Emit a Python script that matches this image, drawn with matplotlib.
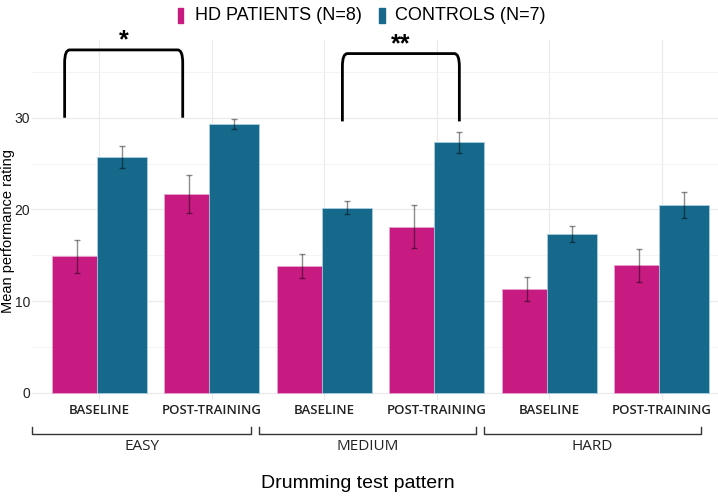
import numpy as np
import matplotlib.pyplot as plt
from matplotlib.path import Path
from matplotlib.patches import PathPatch

# Data
phases = ["BASELINE", "POST-TRAINING", "BASELINE", "POST-TRAINING", "BASELINE", "POST-TRAINING"]
levels = ["EASY", "MEDIUM", "HARD"]
hd_mean = [14.9, 21.7, 13.8, 18.1, 11.3, 13.9]
hd_err = [1.8, 2.1, 1.3, 2.35, 1.3, 1.8]
ctrl_mean = [25.7, 29.3, 20.2, 27.3, 17.3, 20.5]
ctrl_err = [1.2, 0.55, 0.7, 1.1, 0.9, 1.4]
series_names = ["HD PATIENTS (N=8)", "CONTROLS (N=7)"]

PINK = "#C71B82"
BLUE = "#17698C"
LABEL_FONT = ["Liberation Sans", "DejaVu Sans"]
TICK_FONT = ["Open Sans", "DejaVu Sans"]

fig = plt.figure(figsize=(7.18, 5.03), dpi=100)
ax = fig.add_axes([0.0446, 0.2048, 0.9554, 0.716])

x = np.arange(len(phases))
ax.bar(x - 0.2, hd_mean, width=0.444, color=PINK, edgecolor="#e7a6cd", linewidth=0.6, zorder=2)
ax.bar(x + 0.2, ctrl_mean, width=0.444, color=BLUE, edgecolor="#a9cfe0", linewidth=0.6, zorder=3)
ax.errorbar(x - 0.2, hd_mean, yerr=hd_err, fmt="none", ecolor="black", alpha=0.45,
            elinewidth=1.0, capsize=2, capthick=1.0, zorder=4)
ax.errorbar(x + 0.2, ctrl_mean, yerr=ctrl_err, fmt="none", ecolor="black", alpha=0.45,
            elinewidth=1.0, capsize=2, capthick=1.0, zorder=4)

ax.set_xlim(-0.6, 5.5)
ax.set_ylim(-0.8, 38.5)
ax.set_yticks([0, 10, 20, 30])
ax.set_yticks([5, 15, 25, 35], minor=True)
ax.grid(which="major", axis="both", color="#ebebeb", linewidth=0.9, zorder=0)
ax.grid(which="minor", axis="y", color="#f3f3f3", linewidth=0.6, zorder=0)
ax.set_axisbelow(True)
for s in ax.spines.values():
    s.set_visible(False)
ax.tick_params(axis="both", which="both", length=0)
ax.tick_params(axis="y", pad=1.5, labelsize=10, labelcolor="#222222")
for t in ax.get_yticklabels():
    t.set_family(LABEL_FONT)

ax.set_xticks(x)
ax.set_xticklabels(phases, family=TICK_FONT, fontsize=9.5, fontweight="semibold", color="#222222")
ax.tick_params(axis="x", pad=3)

fig.text(8 / 718, 1 - 231 / 503, "Mean performance rating", rotation=90, ha="center",
         va="center", family=LABEL_FONT, fontsize=10.5)


# significance brackets with rounded corners
def sig_bracket(x0, x1, y0, y1, label):
    rx, ry = 0.045, 1.4
    verts = [(x0, y0), (x0, y1 - ry), (x0, y1), (x0 + rx, y1),
             (x1 - rx, y1), (x1, y1), (x1, y1 - ry), (x1, y0)]
    codes = [Path.MOVETO, Path.LINETO, Path.CURVE3, Path.CURVE3,
             Path.LINETO, Path.CURVE3, Path.CURVE3, Path.LINETO]
    ax.add_patch(PathPatch(Path(verts, codes), fill=False, lw=2.0, color="black",
                           clip_on=False, zorder=5))
    ax.text((x0 + x1) / 2, y1 - 0.3, label, ha="center", va="bottom", fontsize=18,
            fontweight="bold", family=LABEL_FONT, clip_on=False)


sig_bracket(-0.31, 0.74, 30.0, 37.4, "*")
sig_bracket(2.16, 3.2, 29.6, 37.0, "**")

# difficulty brackets under the tick labels
tr = ax.get_xaxis_transform()
for i, lev in enumerate(levels):
    a, b = 2 * i - 0.6 + 0.02, 2 * i + 1.4 - 0.05
    if i == 0:
        a = -0.6
    ax.plot([a, a, b, b], [-0.074, -0.095, -0.095, -0.074], transform=tr, color="#333333",
            lw=1.0, clip_on=False)
    ax.text((a + b) / 2, -0.107, lev, transform=tr, ha="center", va="top", fontsize=11,
            family=TICK_FONT, color="#222222")

fig.text(0.499, 0.022, "Drumming test pattern", ha="center", va="bottom", fontsize=14,
         family=LABEL_FONT)

# legend
fig.patches.append(plt.Rectangle((177.5 / 718, 1 - 23 / 503), 5.5 / 718, 15 / 503,
                                 transform=fig.transFigure, color=PINK))
fig.text(195 / 718, 1 - 16 / 503, series_names[0], ha="left", va="center", fontsize=13,
         family=LABEL_FONT)
fig.patches.append(plt.Rectangle((379 / 718, 1 - 23 / 503), 5.5 / 718, 15 / 503,
                                 transform=fig.transFigure, color=BLUE))
fig.text(395 / 718, 1 - 16 / 503, series_names[1], ha="left", va="center", fontsize=13,
         family=LABEL_FONT)

fig.savefig("out.png", dpi=100)
